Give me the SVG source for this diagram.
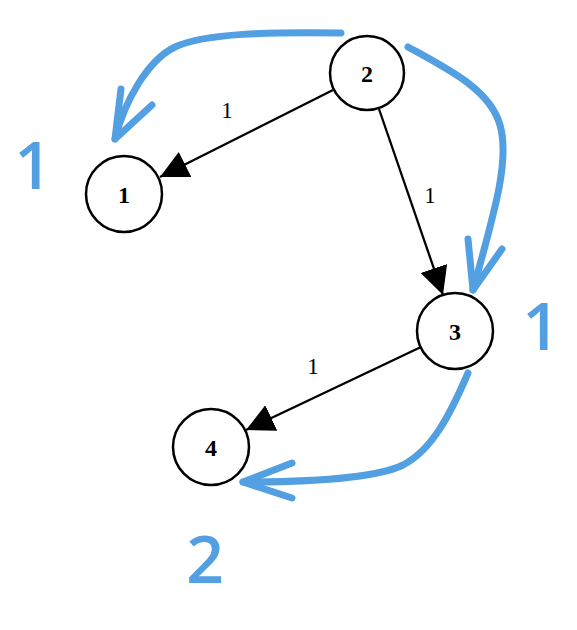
<svg xmlns="http://www.w3.org/2000/svg" width="577" height="630" viewBox="0 0 577 630">
<defs>
<style>
.node circle{fill:#fff;stroke:#000;stroke-width:2.5}
.node text{font-family:"Liberation Serif",serif;font-weight:bold;font-size:24px;text-anchor:middle;fill:#000}
.edge{stroke:#000;stroke-width:2.3;fill:none}
.elabel{font-family:"Liberation Serif",serif;font-size:23px;text-anchor:middle;fill:#000}
.blue{stroke:#529fe2;stroke-width:7;fill:none;stroke-linecap:round;stroke-linejoin:round}
.blabel{font-family:"Open Sans",sans-serif;font-weight:600;font-size:66px;text-anchor:middle;fill:#529fe2}
</style>
<marker id="ah" markerUnits="userSpaceOnUse" markerWidth="30" markerHeight="30" refX="28" refY="14" orient="auto">
<path d="M0,0 L28,14 L0,28 z" fill="#000"/>
</marker>
</defs>
<rect width="577" height="630" fill="#fff"/>
<g id="connectors">
<line class="edge" x1="333" y1="90" x2="160" y2="177" marker-end="url(#ah)"/>
<line class="edge" x1="379" y1="109" x2="443" y2="295" marker-end="url(#ah)"/>
<line class="edge" x1="421" y1="347" x2="246" y2="430" marker-end="url(#ah)"/>
<text class="elabel" x="227" y="118">1</text>
<text class="elabel" x="430" y="203">1</text>
<text class="elabel" x="313" y="374">1</text>
<path class="blue" d="M341,33 C270,32 205,33 175,47 C148,60 125,100 115,139"/>
<path class="blue" d="M121,89 L115,139 L152,105"/>
<path class="blue" d="M408,47 C450,70 490,90 500,125 C510,160 495,210 473,290"/>
<path class="blue" d="M468,239 L473,290 L502,249"/>
<path class="blue" d="M468,373 C450,415 432,450 403,465 C372,480 300,482 243,482"/>
<path class="blue" d="M292,463 L243,482 L292,498"/>
</g>
<g id="node1" class="node"><circle cx="124" cy="194" r="38"/><text x="124" y="203">1</text></g>
<g id="node2" class="node"><circle cx="367" cy="73" r="37"/><text x="367" y="82">2</text></g>
<g id="node3" class="node"><circle cx="455" cy="331" r="38"/><text x="455" y="340">3</text></g>
<g id="node4" class="node"><circle cx="211" cy="447" r="38"/><text x="211" y="456">4</text></g>
<g id="labels">
<text class="blabel" x="33" y="189">1</text>
<text class="blabel" x="541" y="350">1</text>
<text class="blabel" x="205" y="583">2</text>
</g>
</svg>
